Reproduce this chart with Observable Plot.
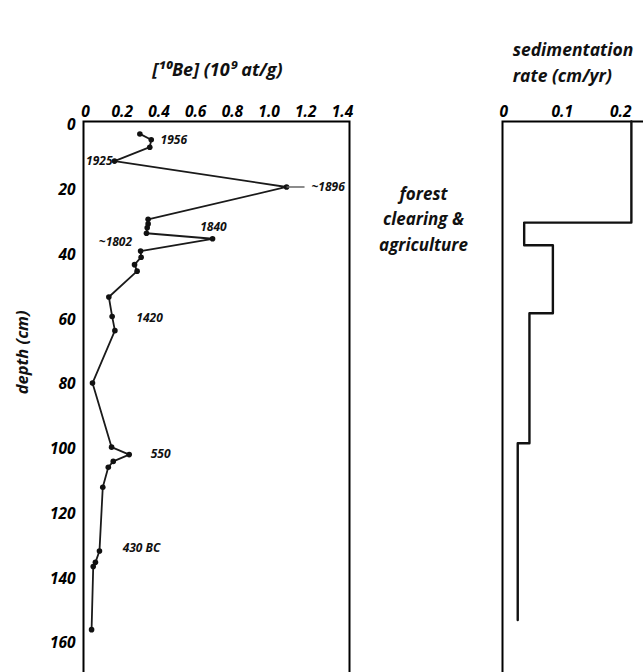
<!DOCTYPE html>
<html>
<head>
<meta charset="utf-8">
<script src="https://cdn.jsdelivr.net/npm/d3@7"></script>
<script src="https://cdn.jsdelivr.net/npm/@observablehq/plot@0.6"></script>
<style>
  body { margin: 0; background: white; }
  #wrap { position: relative; width: 643px; height: 672px; overflow: hidden; background: white; }
  #wrap > div, #wrap > svg { position: absolute; top: 0; }
</style>
</head>
<body>
<div id="wrap"></div>
<script>
// ---- 10Be profile (left panel) ----
const beDepth = [2.6, 4.4, 6.7, 11, 19, 29, 30.4, 31.6, 33.3, 35, 38.8, 40.7, 43, 45, 53, 59, 63.4, 79.6, 99.4, 101.7, 103.8, 105.6, 111.8, 131.5, 135, 136.3, 155.8];
const beConc  = [0.296, 0.358, 0.35, 0.158, 1.095, 0.341, 0.341, 0.336, 0.332, 0.692, 0.30, 0.303, 0.267, 0.281, 0.127, 0.145, 0.16, 0.038, 0.142, 0.238, 0.151, 0.124, 0.094, 0.076, 0.054, 0.042, 0.033];

// date annotations
const dateText   = ["1956", "1925", "~1896", "1840", "~1802", "1420", "550", "430 BC"];
const dateConc   = [0.409, 0.147, 1.231, 0.697, 0.163, 0.349, 0.409, 0.305];
const dateDepth  = [4.6, 11.1, 18.9, 31.5, 36.2, 59.6, 101.7, 130.7];
const dateAnchor = ["start", "end", "start", "middle", "middle", "middle", "middle", "middle"];
const leaderFrom = 1.095, leaderTo = 1.193, leaderDepth = 19;

const beTicks = [0, 0.2, 0.4, 0.6, 0.8, 1.0, 1.2, 1.4];
const depthTicks = [0, 20, 40, 60, 80, 100, 120, 140, 160];

// ---- sedimentation rate (right panel) ----
const sedTop  = [0, 30, 37, 58, 98.2];
const sedRate = [0.218, 0.035, 0.084, 0.044, 0.024];
const sedEnd  = 152.8;
const sedTicks = [0, 0.1, 0.2];

const beData = beDepth.map((d, i) => ({depth: d, conc: beConc[i]}));
const dates = dateText.map((t, i) => ({text: t, conc: dateConc[i], depth: dateDepth[i], anchor: dateAnchor[i]}));

const yDomain = [-1.24, 174.6];
const H = 690;
const font = {fontFamily: "'Open Sans', sans-serif", fontSize: "15px", fontStyle: "italic", fontWeight: "bold", background: "transparent", overflow: "visible", maxWidth: "none"};
const fmt = d => d === 0 ? "0" : d.toFixed(1);
const dateMark = a => Plot.text(dates.filter(d => d.anchor === a), {x: "conc", y: "depth", text: "text", textAnchor: a, fontSize: 12, fill: "#111"});

const left = Plot.plot({
  width: 460, height: H,
  marginLeft: 83, marginRight: 111, marginTop: 121, marginBottom: 0,
  style: font,
  x: {domain: [-0.011, 1.438], axis: null},
  y: {domain: yDomain, reverse: true, axis: null},
  marks: [
    Plot.axisX({anchor: "top", ticks: beTicks, tickSize: 0, tickPadding: 5, tickFormat: fmt, label: null, fontSize: 15.5}),
    Plot.axisY({anchor: "left", ticks: depthTicks, tickSize: 0, tickPadding: 8, label: null, fontSize: 15.5}),
    Plot.frame({stroke: "black", strokeWidth: 2}),
    Plot.line(beData, {x: "conc", y: "depth", stroke: "#1a1a1a", strokeWidth: 1.8}),
    Plot.dot(beData, {x: "conc", y: "depth", r: 2.8, fill: "#111"}),
    Plot.link([{x1: leaderFrom, x2: leaderTo, y: leaderDepth}], {x1: "x1", x2: "x2", y1: "y", y2: "y", stroke: "#666", strokeWidth: 1.5}),
    dateMark("start"), dateMark("end"), dateMark("middle"),
    Plot.text(["[¹⁰Be] (10⁹ at/g)"], {x: 0.719, y: -17, text: d => d, fontSize: 18, fill: "#111"}),
    Plot.text(["depth (cm)"], {x: -0.343, y: 70.1, text: d => d, rotate: -90, fontSize: 16.5, fill: "#111"}),
    Plot.text(["forest\nclearing &\nagriculture"], {x: 1.841, y: 28.3, text: d => d, fontSize: 17, lineHeight: 1.5, fill: "#111"})
  ]
});
left.style.left = "0px";

const sedLine = sedTop.map((d, i) => ({depth: i === 0 ? yDomain[0] : d, rate: sedRate[i]}));
sedLine.push({depth: sedEnd, rate: sedRate[sedRate.length - 1]});

const right = Plot.plot({
  width: 260, height: H,
  marginLeft: 62, marginRight: 0, marginTop: 121, marginBottom: 0,
  style: font,
  x: {domain: [-0.002, 0.336], axis: null},
  y: {domain: yDomain, reverse: true, axis: null},
  marks: [
    Plot.axisX({anchor: "top", ticks: sedTicks, tickSize: 0, tickPadding: 5, tickFormat: fmt, label: null, fontSize: 15.5}),
    Plot.frame({stroke: "black", strokeWidth: 2}),
    Plot.line(sedLine, {x: "rate", y: "depth", curve: "step-before", stroke: "#111", strokeWidth: 2.4}),
    Plot.text(["sedimentation", "rate (cm/yr)"], {x: 0.0154, y: [-23.2, -15.1], text: d => d, textAnchor: "start", fontSize: 17.5, fill: "#111"})
  ]
});
right.style.left = "440px";

document.getElementById("wrap").append(left, right);
</script>
</body>
</html>
